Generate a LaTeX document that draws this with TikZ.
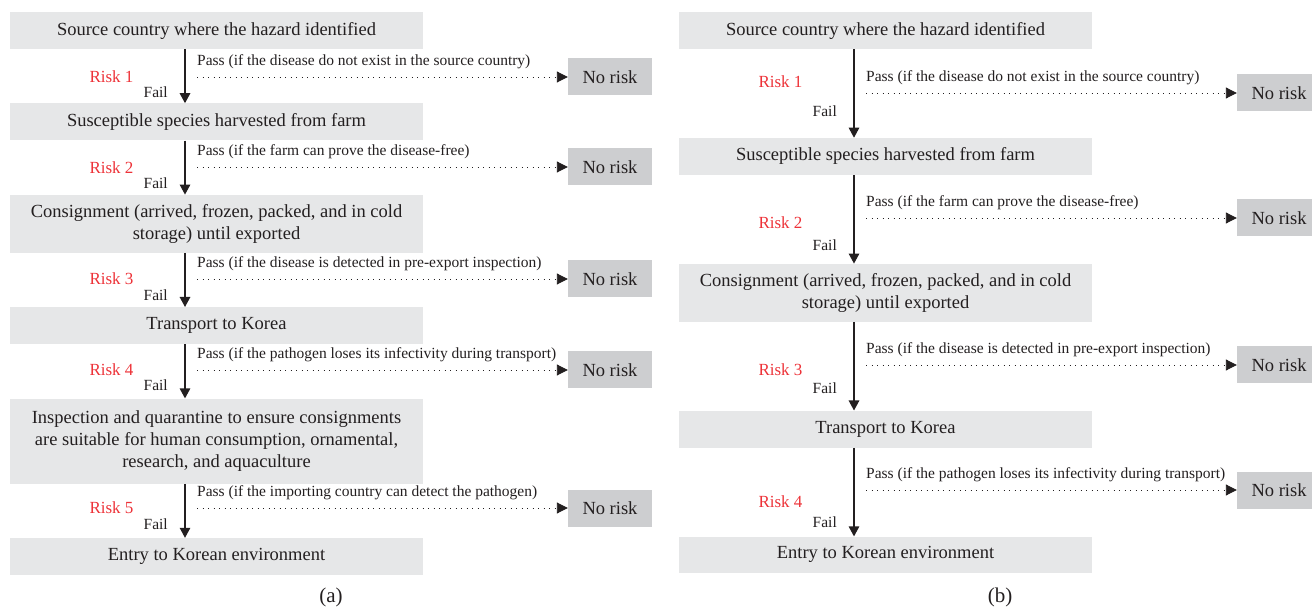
\documentclass[tikz,border=0pt]{standalone}
\usepackage{fontspec}
\setmainfont{Liberation Serif}
\usetikzlibrary{arrows.meta,positioning}

\definecolor{boxgray}{RGB}{230,231,232}
\definecolor{nogray}{RGB}{205,206,208}
\definecolor{riskred}{RGB}{237,50,56}
\definecolor{ink}{RGB}{35,31,32}

\begin{document}
\begin{tikzpicture}[
    x=1pt, y=-1pt,
    node distance=54pt,
    failline/.style={-{Triangle[length=10pt,width=10.5pt]}, line width=1.3pt, draw=ink},
    passline/.style={
      -{Triangle[length=11pt,width=11pt]},
      line width=0.9pt, draw=ink,
      dash pattern=on 0.9pt off 4.6pt
    },
    stage/.style={
      fill=boxgray,
      text=ink,
      align=center,
      minimum width=413pt,
      minimum height=37pt,
      inner sep=0pt,
      font=\fontsize{18.5}{22}\selectfont
    },
    norisk/.style={
      fill=nogray, text=ink,
      minimum width=84pt, minimum height=37pt, inner sep=0pt,
      font=\fontsize{18.5}{22}\selectfont
    },
    risk/.style={text=riskred, inner sep=0pt, font=\fontsize{17}{20}\selectfont},
    fail/.style={text=ink, inner sep=0pt, anchor=east, font=\fontsize{15.5}{18}\selectfont},
    pass/.style={text=ink, inner sep=0pt, anchor=west, font=\fontsize{15.5}{18}\selectfont},
    sublabel/.style={text=ink, font=\fontsize{21}{24}\selectfont}
  ]
    \useasboundingbox (0,0) rectangle (1312,609);
    \clip (0,0) rectangle (1312,609);

    % (a)
    \coordinate (ax) at (185,0);
    \node[stage] (src) at (216.5,30.5) {Source country where the hazard identified};
    \node[stage, below=of src] (farm) {Susceptible species harvested from farm};
    \node[stage, below=of farm, minimum height=58pt] (cons) {
      Consignment (arrived, frozen, packed, and in cold\\ storage) until exported
    };
    \node[stage, below=of cons] (trans) {Transport to Korea};
    \node[stage, below=of trans, minimum height=85pt] (insp) {
      Inspection and quarantine to ensure consignments\\
      are suitable for human consumption, ornamental,\\
      research, and aquaculture
    };
    \node[stage, below=of insp] (entry) {Entry to Korean environment};

    \node[risk] (r1) at (111.5,77) {Risk 1};
    \node[fail] (f1) at (168,92) {Fail};
    \node[pass] (p1) at (197,62) {Pass (if the disease do not exist in the source country)};
    \node[norisk] (n1) at (610,77) {No risk};

    \node[risk] (r2) at (111.5,168) {Risk 2};
    \node[fail] (f2) at (168,183) {Fail};
    \node[pass] (p2) at (197,152) {Pass (if the farm can prove the disease-free)};
    \node[norisk] (n2) at (610,167) {No risk};

    \node[risk] (r3) at (111.5,279) {Risk 3};
    \node[fail] (f3) at (168,295) {Fail};
    \node[pass] (p3) at (197,264) {Pass (if the disease is detected in pre-export inspection)};
    \node[norisk] (n3) at (610,279) {No risk};

    \node[risk] (r4) at (111.5,370) {Risk 4};
    \node[fail] (f4) at (168,385) {Fail};
    \node[pass] (p4) at (197,355) {Pass (if the pathogen loses its infectivity during transport)};
    \node[norisk] (n4) at (610,370) {No risk};

    \node[risk] (r5) at (111.5,508) {Risk 5};
    \node[fail] (f5) at (168,524) {Fail};
    \node[pass] (p5) at (197,493) {Pass (if the importing country can detect the pathogen)};
    \node[norisk] (n5) at (610,508) {No risk};

    \node[sublabel] (capa) at (331,597) {(a)};

    \draw[failline] (src.south -| ax) -- (farm.north -| ax);
    \draw[failline] (farm.south -| ax) -- (cons.north -| ax);
    \draw[failline] (cons.south -| ax) -- (trans.north -| ax);
    \draw[failline] (trans.south -| ax) -- (insp.north -| ax);
    \draw[failline] (insp.south -| ax) -- (entry.north -| ax);
    \draw[passline] (p1.west |- n1) -- (n1);
    \draw[passline] (p2.west |- n2) -- (n2);
    \draw[passline] (p3.west |- n3) -- (n3);
    \draw[passline] (p4.west |- n4) -- (n4);
    \draw[passline] (p5.west |- n5) -- (n5);

    % (b)
    \begin{scope}[xshift=669pt, node distance=88.5pt]
    \coordinate (bx) at (185,0);
    \node[stage] (bsrc) at (216.5,30.5) {Source country where the hazard identified};
    \node[stage, below=of bsrc] (bfarm) {Susceptible species harvested from farm};
    \node[stage, below=of bfarm, minimum height=58pt] (bcons) {
      Consignment (arrived, frozen, packed, and in cold\\ storage) until exported
    };
    \node[stage, below=of bcons] (btrans) {Transport to Korea};
    \node[stage, below=of btrans, minimum height=36pt] (bentry) {Entry to Korean environment};

    \node[risk] (br1) at (111.5,82) {Risk 1};
    \node[fail] (bf1) at (168,111) {Fail};
    \node[pass] (bp1) at (197,78) {Pass (if the disease do not exist in the source country)};
    \node[norisk] (bn1) at (610,93) {No risk};

    \node[risk] (br2) at (111.5,223) {Risk 2};
    \node[fail] (bf2) at (168,245) {Fail};
    \node[pass] (bp2) at (197,203) {Pass (if the farm can prove the disease-free)};
    \node[norisk] (bn2) at (610,218) {No risk};

    \node[risk] (br3) at (111.5,370) {Risk 3};
    \node[fail] (bf3) at (168,388) {Fail};
    \node[pass] (bp3) at (197,350) {Pass (if the disease is detected in pre-export inspection)};
    \node[norisk] (bn3) at (610,365) {No risk};

    \node[risk] (br4) at (111.5,502) {Risk 4};
    \node[fail] (bf4) at (168,522) {Fail};
    \node[pass] (bp4) at (197,475) {Pass (if the pathogen loses its infectivity during transport)};
    \node[norisk] (bn4) at (610,490) {No risk};

    \node[sublabel] (capb) at (331,597) {(b)};

    \draw[failline] (bsrc.south -| bx) -- (bfarm.north -| bx);
    \draw[failline] (bfarm.south -| bx) -- (bcons.north -| bx);
    \draw[failline] (bcons.south -| bx) -- (btrans.north -| bx);
    \draw[failline] (btrans.south -| bx) -- (bentry.north -| bx);
    \draw[passline] (bp1.west |- bn1) -- (bn1);
    \draw[passline] (bp2.west |- bn2) -- (bn2);
    \draw[passline] (bp3.west |- bn3) -- (bn3);
    \draw[passline] (bp4.west |- bn4) -- (bn4);
    \end{scope}
  \end{tikzpicture}
\end{document}
